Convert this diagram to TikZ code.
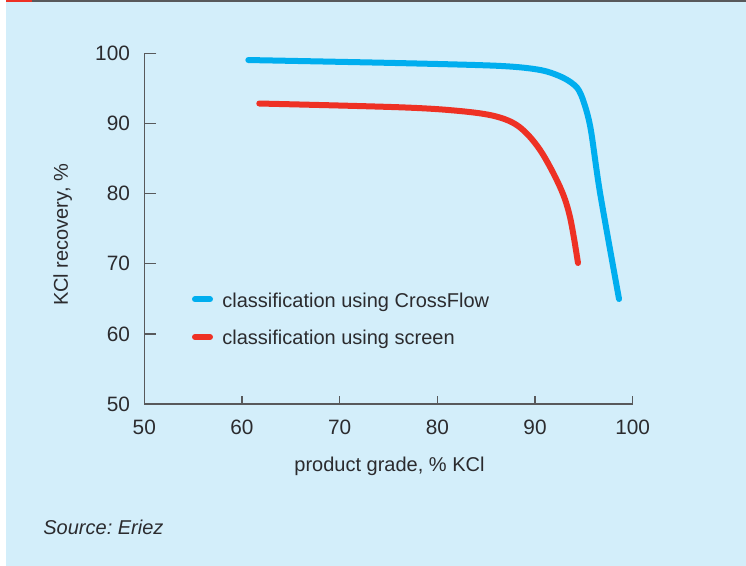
\documentclass[tikz,border=0pt]{standalone}
\usepackage{fontspec}
\setmainfont{Liberation Sans}
\usetikzlibrary{calc}

\definecolor{panel}{HTML}{D3EEFA}
\definecolor{flowblue}{HTML}{00AEEF}
\definecolor{screenred}{HTML}{EE3124}
\definecolor{axisgrey}{HTML}{58595B}
\definecolor{inkgrey}{HTML}{2B2B2E}

\tikzset{
	axisline/.style={line width=0.75pt, color=axisgrey},
	curve/.style={line width=3pt, line cap=round, line join=round},
	ticklabel/.style={font=\fontsize{10.4}{12}\selectfont, text=inkgrey, inner sep=0pt},
	plainlabel/.style={font=\fontsize{10}{12}\selectfont, text=inkgrey, inner sep=0pt},
}
\frenchspacing

\begin{document}
\begin{tikzpicture}[x=0.5pt, y=-0.5pt]
			%%%%% START %%%%%
			\useasboundingbox (0, 0) rectangle (746, 566);
			
			% panel and top rule
			\fill[panel] (6, 2) rectangle (746, 566);
			\fill[axisgrey] (32, 0) rectangle (746, 2);
			\fill[screenred] (6, 0) rectangle (32, 2);
			
			% plot area in data units (grade %, recovery %)
			\begin{scope}[shift={(144.3, 404)}, x=4.884pt, y=3.507pt, shift={(-50, -50)}]
				\draw[axisline] (51.23, 100) -- (50, 100) -- (50, 50) -- (100, 50) -- (100, 51.14);
				\foreach \v in {60, 70, 80, 90} {
					\draw[axisline] (50, \v) -- (51.23, \v);
					\draw[axisline] (\v, 50) -- (\v, 51.14);
				}
				\foreach \v in {50, 60, 70, 80, 90, 100} {
					\node[ticklabel, anchor=east, xshift=-7pt] (ylab\v) at (50, \v) {\v};
					\node[ticklabel, yshift=-11.5pt] (xlab\v) at (\v, 50) {\v};
				}
				
				% CrossFlow
				\draw[curve, flowblue] plot[smooth, tension=0.5] coordinates {
					(60.65, 99.04) (76.2, 98.6) (86.4, 98.2) (90.6, 97.6)
					(92.9, 96.5) (94.3, 95.1) (95.0, 93.0) (95.7, 89.2) (96.66, 80.08) (98.6, 64.97)};
				% screen
				\draw[curve, screenred] plot[smooth, tension=0.55] coordinates {
					(61.77, 92.84) (76.2, 92.3) (82.3, 91.77) (86.0, 91.0)
					(88.4, 89.5) (90.52, 86.21) (92.56, 80.94) (93.58, 76.66) (94.4, 70.1)};
			\end{scope}
			
			% legend
			\draw[curve, flowblue] (195, 299.3) -- (210, 299.3);
			\node[plainlabel, anchor=base west] (keyflow) at (222, 307.3) {classification using CrossFlow};
			\draw[curve, screenred] (195, 337) -- (210, 337);
			\node[plainlabel, anchor=base west] (keyscreen) at (222, 345) {classification using screen};
			
			% axis titles
			\node[plainlabel, anchor=base] (xtitle) at (389.5, 471.7) {product grade, \% KCl};
			\node[plainlabel, anchor=base, rotate=90] (ytitle) at (68, 235) {KCl recovery, \%};
			
			\node[plainlabel, font=\fontsize{10}{12}\selectfont\itshape, anchor=base west] (source) at (43, 535) {Source: Eriez};
			%%%%% END %%%%%
\end{tikzpicture}
\end{document}
